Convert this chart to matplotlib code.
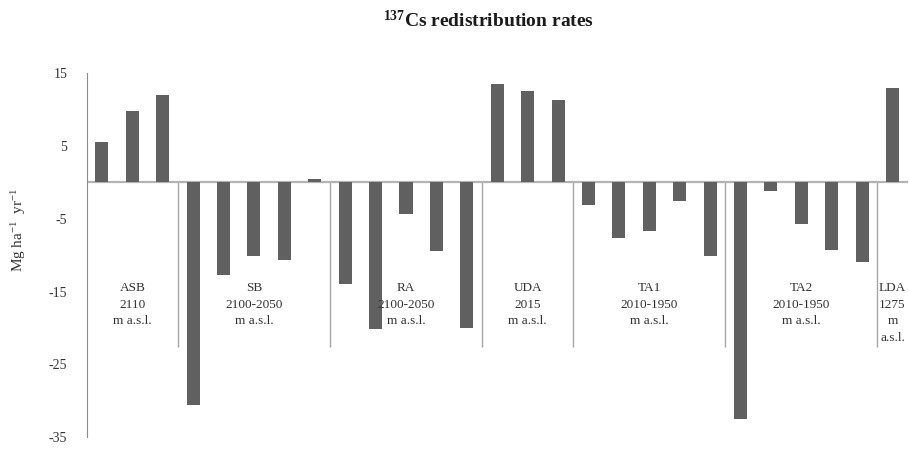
import numpy as np
import matplotlib.pyplot as plt

plt.rcParams['font.family'] = ['Liberation Serif', 'DejaVu Serif']
plt.rcParams['mathtext.default'] = 'regular'
plt.rcParams['axes.unicode_minus'] = False

# sampling areas along the slope and their per-site redistribution rates
groups = ['ASB', 'SB', 'RA', 'UDA', 'TA1', 'TA2', 'LDA']
group_text = ['ASB\n2110\nm a.s.l.',
              'SB\n2100-2050\nm a.s.l.',
              'RA\n2100-2050\nm a.s.l.',
              'UDA\n2015\nm a.s.l.',
              'TA1\n2010-1950\nm a.s.l.',
              'TA2\n2010-1950\nm a.s.l.',
              'LDA\n1275\nm\na.s.l.']
asb = [5.5, 9.8, 11.9]
sb = [-30.5, -12.8, -10.2, -10.7, 0.4]
ra = [-14.0, -20.1, -4.4, -9.5, -20.0]
uda = [13.4, 12.5, 11.2]
ta1 = [-3.1, -7.6, -6.7, -2.6, -10.2]
ta2 = [-32.5, -1.2, -5.7, -9.3, -10.9]
lda = [12.9]
yticks = [15, 5, -5, -15, -25, -35]

series = [asb, sb, ra, uda, ta1, ta2, lda]
values = np.concatenate(series)
x = np.arange(len(values))
sizes = [len(s) for s in series]
edges = np.cumsum(sizes) - 0.5
starts = edges - np.array(sizes)

fig = plt.figure(figsize=(9.09, 4.51), dpi=100)
ax = fig.add_axes([0.0954, 0.030, 0.9032, 0.809])

ax.bar(x, values, width=0.43, color='#606060', zorder=3)
ax.axhline(0, color='#b4b4b4', lw=1.6, zorder=2)
ax.vlines(edges[:-1], -22.6, 0, color='#a6a6a6', lw=1.0, zorder=1)

for name, s0, e0 in zip(group_text, starts, edges):
    ax.text((s0 + e0) / 2, -13.7, name, ha='center', va='top',
            fontsize=9.5, color='#333333', linespacing=1.5, zorder=4)

ax.set_xlim(-0.5, len(values) - 0.5)
ax.set_ylim(-35, 15)
ax.set_yticks(yticks)
ax.set_xticks([])
ax.tick_params(axis='y', length=0, pad=14, labelsize=10, labelcolor='#333333')
for side in ['top', 'right', 'bottom']:
    ax.spines[side].set_visible(False)
ax.spines['left'].set_color('#8c8c8c')

ax.set_ylabel('Mg ha$^{-1}$  yr$^{-1}$', fontsize=11, color='#333333')
ax.yaxis.set_label_coords(-0.072, 0.57)

fig.text(0.538, 0.955, '$^{137}$Cs redistribution rates', ha='center', va='center',
         fontsize=14, fontweight='bold', color='#1a1a1a')

fig.savefig('out.png', dpi=100)
